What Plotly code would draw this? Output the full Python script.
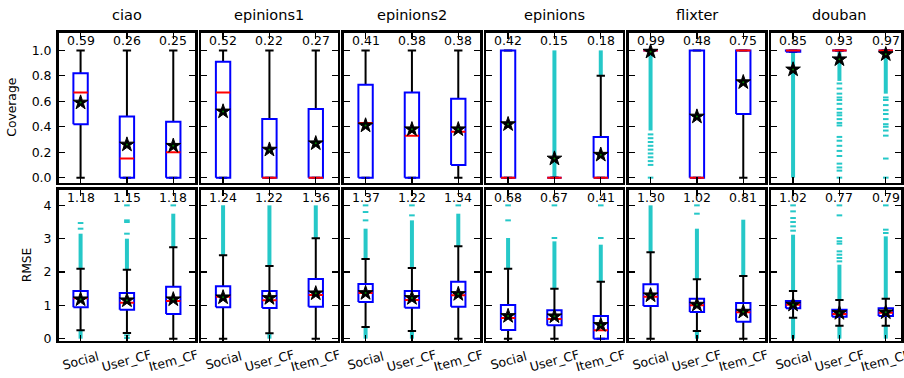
import plotly.graph_objects as go

DATASETS = ["ciao", "epinions1", "epinions2", "epinions", "flixter", "douban"]
METHODS = ["Social", "User_CF", "Item_CF"]
METRICS = ["Coverage", "RMSE"]

# ---------------- Coverage ----------------
COV_Q1 = [[0.42, 0.0, 0.0], [0.0, 0.0, 0.0], [0.0, 0.0, 0.10],
          [0.0, 0.0, 0.0], [1.0, 0.0, 0.50], [0.99, 1.0, 1.0]]
COV_MED = [[0.67, 0.15, 0.20], [0.67, 0.0, 0.0], [0.43, 0.33, 0.36],
           [0.0, 0.0, 0.0], [1.0, 0.0, 1.0], [1.0, 1.0, 1.0]]
COV_Q3 = [[0.82, 0.48, 0.44], [0.91, 0.46, 0.54], [0.73, 0.67, 0.62],
          [1.0, 0.0, 0.32], [1.0, 1.0, 1.0], [1.0, 1.0, 1.0]]
COV_LO = [[0.0, 0.0, 0.0], [0.0, 0.0, 0.0], [0.0, 0.0, 0.0],
          [0.0, 0.0, 0.0], [1.0, 0.0, 0.0], [0.99, 1.0, 1.0]]
COV_HI = [[1.0, 1.0, 1.0], [1.0, 1.0, 1.0], [1.0, 1.0, 1.0],
          [1.0, 0.0, 0.80], [1.0, 1.0, 1.0], [1.0, 1.0, 1.0]]
COV_MEAN = [[0.59, 0.26, 0.25], [0.52, 0.22, 0.27], [0.41, 0.38, 0.38],
            [0.42, 0.15, 0.18], [0.99, 0.48, 0.75], [0.85, 0.93, 0.97]]
COV_BANDS = [[[], [], []], [[], [], []], [[], [], []],
             [[], [[0.0, 1.0]], [[0.80, 1.0]]],
             [[[0.37, 1.0]], [], []],
             [[[0.0, 0.99]], [[0.76, 1.0]], [[0.66, 1.0]]]]
COV_POINTS = [[[], [], []], [[], [], []], [[], [], []], [[], [], []],
              [[0.34, 0.31, 0.28, 0.25, 0.22, 0.19, 0.16, 0.13, 0.10, 0.0], [], []],
              [[], [0.74, 0.70, 0.66, 0.63, 0.61, 0.58, 0.54, 0.51, 0.49, 0.46, 0.43,
                    0.41, 0.32, 0.29, 0.25, 0.21, 0.17, 0.11, 0.08, 0.055, 0.0],
               [0.63, 0.61, 0.57, 0.53, 0.50, 0.46, 0.42, 0.40, 0.37, 0.33, 0.15, 0.0]]]

# ---------------- RMSE ----------------
RMSE_Q1 = [[0.94, 0.87, 0.74], [0.94, 0.92, 0.96], [1.10, 0.93, 0.96],
           [0.26, 0.40, 0.0], [0.98, 0.80, 0.51], [0.91, 0.66, 0.68]]
RMSE_MED = [[1.21, 1.08, 1.13], [1.26, 1.15, 1.31], [1.37, 1.16, 1.30],
            [0.62, 0.59, 0.25], [1.26, 1.00, 0.79], [1.02, 0.74, 0.78]]
RMSE_Q3 = [[1.43, 1.37, 1.56], [1.57, 1.43, 1.79], [1.64, 1.43, 1.71],
           [1.01, 0.85, 0.68], [1.63, 1.20, 1.07], [1.13, 0.87, 0.91]]
RMSE_LO = [[0.25, 0.17, 0.0], [0.0, 0.16, 0.0], [0.35, 0.23, 0.0],
           [0.0, 0.0, 0.0], [0.0, 0.23, 0.0], [0.63, 0.39, 0.39]]
RMSE_HI = [[2.10, 2.07, 2.74], [2.50, 2.18, 3.01], [2.39, 2.12, 2.77],
           [2.10, 1.50, 1.71], [2.59, 1.78, 1.88], [1.43, 1.16, 1.20]]
RMSE_MEAN = [[1.18, 1.15, 1.18], [1.24, 1.22, 1.36], [1.37, 1.22, 1.34],
             [0.68, 0.67, 0.41], [1.30, 1.02, 0.81], [1.02, 0.77, 0.79]]
RMSE_BANDS = [[[[2.10, 3.15], [0.0, 0.25]], [[2.07, 3.0]], [[2.74, 3.75]]],
              [[[2.50, 4.0]], [[2.18, 4.0], [0.0, 0.16]], [[3.01, 4.0]]],
              [[[2.39, 3.30], [0.0, 0.35]], [[2.12, 3.55], [0.0, 0.23]], [[2.77, 3.75]]],
              [[[2.12, 3.02]], [[1.51, 2.92]], [[1.71, 2.82]]],
              [[[2.59, 4.0]], [[1.78, 3.30], [0.0, 0.23]], [[1.88, 3.57]]],
              [[[1.43, 3.12], [0.0, 0.63]], [[1.16, 2.22], [0.0, 0.39]], [[1.21, 3.07], [0.0, 0.39]]]]
RMSE_POINTS = [[[3.30, 3.47], [3.15, 3.50, 3.55, 4.0, 0.02, 0.10], [4.0]],
               [[], [], []],
               [[3.55, 3.80, 4.0], [3.70, 4.0], [4.0]],
               [[3.55, 4.0], [3.02, 4.0], [3.02, 4.0]],
               [[], [3.75, 4.0], []],
               [[4.0, 3.82, 3.62, 3.50, 3.37, 3.24],
                [4.0, 3.70, 3.02, 2.92, 2.85, 2.62, 2.52, 2.42, 2.32],
                [4.0, 3.27, 3.17]]]

STATS = {
    "Coverage": (COV_Q1, COV_MED, COV_Q3, COV_LO, COV_HI, COV_MEAN, COV_BANDS, COV_POINTS),
    "RMSE": (RMSE_Q1, RMSE_MED, RMSE_Q3, RMSE_LO, RMSE_HI, RMSE_MEAN, RMSE_BANDS, RMSE_POINTS),
}

# ---------------- layout geometry ----------------
W, H = 904, 378
LW = 2.7
PX_PER_UNIT_X = 46.35
COL_LEFT0 = 57.4      # spine centre of first column
COL_STEP = 142.5
COL_SPAN = 139.0
ROW_SPINES = [(31.3, 184.0), (188.7, 342.0)]   # top/bottom spine centres in px
YRANGES = [(-0.05, 1.15), (-0.1, 4.5)]
YTICKS = [[0, 0.2, 0.4, 0.6, 0.8, 1.0], [0, 1, 2, 3, 4]]
YTICKTEXT = [["0.0", "0.2", "0.4", "0.6", "0.8", "1.0"], ["0", "1", "2", "3", "4"]]
MEAN_LABEL_Y = [1.078, 4.24]
YTITLE_X = [12, 27]
XLABEL_Y_PX = 360

BOX_HALF = 0.155
CAP_HALF = 0.09
BLUE = "#0000ff"
RED = "#ff0000"
CYAN = "rgb(0,191,191)"
FONT = "DejaVu Sans"

fig = go.Figure()
layout = dict(width=W, height=H, margin=dict(l=0, r=0, t=0, b=0, autoexpand=False),
              template="none",
              paper_bgcolor="white", plot_bgcolor="white", showlegend=False,
              font=dict(family=FONT, size=12, color="black"))
annotations = []

for r, metric in enumerate(METRICS):
    q1s, meds, q3s, los, his, means, bands, points = STATS[metric]
    top_px, bot_px = ROW_SPINES[r]
    y0, y1 = YRANGES[r]
    ppu_y = (bot_px - top_px) / (y1 - y0)
    inner_top = top_px + LW / 2
    inner_bot = bot_px - LW / 2
    yr = [y0 + (LW / 2) / ppu_y, y1 - (LW / 2) / ppu_y]
    for c, ds in enumerate(DATASETS):
        n = r * 6 + c + 1
        xa = "x" if n == 1 else f"x{n}"
        ya = "y" if n == 1 else f"y{n}"
        left = COL_LEFT0 + c * COL_STEP + LW / 2
        right = COL_LEFT0 + c * COL_STEP + COL_SPAN - LW / 2
        right_c = min(right, W - LW)
        xr = [0.5 + (LW / 2) / PX_PER_UNIT_X, 0.5 + (right_c - COL_LEFT0 - c * COL_STEP) / PX_PER_UNIT_X]

        common = dict(showline=True, linecolor="black", linewidth=LW, mirror="allticks",
                      ticks="inside", ticklen=6, tickwidth=1.3, tickcolor="black",
                      showgrid=False, zeroline=False, fixedrange=True, automargin=False)
        layout["xaxis" if n == 1 else f"xaxis{n}"] = dict(
            common, domain=[left / W, right_c / W], range=xr, anchor=ya,
            tickmode="array", tickvals=[1, 2, 3], showticklabels=False)
        layout["yaxis" if n == 1 else f"yaxis{n}"] = dict(
            common, domain=[1 - inner_bot / H, 1 - inner_top / H], range=yr, anchor=xa,
            tickmode="array", tickvals=YTICKS[r], ticktext=YTICKTEXT[r],
            showticklabels=(c == 0), ticklabelstandoff=2,
            tickfont=dict(size=12.5, family=FONT, color="black"))

        # outlier bands and points
        bx, by, px_, py_ = [], [], [], []
        for k in range(3):
            for lo, hi in bands[c][k]:
                bx += [k + 1, k + 1, None]
                by += [lo, hi, None]
            for v in points[c][k]:
                px_.append(k + 1)
                py_.append(v)
        if bx:
            fig.add_trace(go.Scatter(x=bx, y=by, mode="lines", xaxis=xa, yaxis=ya,
                                     line=dict(color=CYAN, width=4), hoverinfo="skip", opacity=0.85))
        if px_:
            fig.add_trace(go.Scatter(x=px_, y=py_, mode="markers", xaxis=xa, yaxis=ya,
                                     marker=dict(symbol="line-ew", size=4,
                                                 line=dict(color=CYAN, width=2)),
                                     hoverinfo="skip", opacity=0.85))

        # whiskers and caps
        wx, wy = [], []
        for k in range(3):
            x0 = k + 1
            wx += [x0, x0, None, x0, x0, None]
            wy += [los[c][k], q1s[c][k], None, q3s[c][k], his[c][k], None]
            wx += [x0 - CAP_HALF, x0 + CAP_HALF, None, x0 - CAP_HALF, x0 + CAP_HALF, None]
            wy += [los[c][k], los[c][k], None, his[c][k], his[c][k], None]
        fig.add_trace(go.Scatter(x=wx, y=wy, mode="lines", xaxis=xa, yaxis=ya,
                                 line=dict(color="black", width=2), hoverinfo="skip"))
        # boxes
        rx, ry = [], []
        for k in range(3):
            xl, xh = k + 1 - BOX_HALF, k + 1 + BOX_HALF
            rx += [xl, xh, xh, xl, xl, None]
            ry += [q1s[c][k], q1s[c][k], q3s[c][k], q3s[c][k], q1s[c][k], None]
        fig.add_trace(go.Scatter(x=rx, y=ry, mode="lines", xaxis=xa, yaxis=ya,
                                 line=dict(color=BLUE, width=2), hoverinfo="skip"))
        # medians
        mx, my = [], []
        for k in range(3):
            mx += [k + 1 - BOX_HALF, k + 1 + BOX_HALF, None]
            my += [meds[c][k], meds[c][k], None]
        fig.add_trace(go.Scatter(x=mx, y=my, mode="lines", xaxis=xa, yaxis=ya,
                                 line=dict(color=RED, width=2), hoverinfo="skip"))
        # means
        fig.add_trace(go.Scatter(x=[1, 2, 3], y=means[c], mode="markers", xaxis=xa, yaxis=ya,
                                 marker=dict(symbol="star", size=11, color="black",
                                             line=dict(color="black", width=1)),
                                 hoverinfo="skip"))
        fig.add_trace(go.Scatter(x=[1, 2, 3], y=means[c], mode="markers", xaxis=xa, yaxis=ya,
                                 marker=dict(symbol="circle", size=2, color="green"),
                                 hoverinfo="skip"))
        for k in range(3):
            annotations.append(dict(x=k + 1, y=MEAN_LABEL_Y[r], xref=xa, yref=ya,
                                    xanchor="center", yanchor="middle",
                                    text=f"{means[c][k]:.2f}", showarrow=False,
                                    font=dict(size=12.5, family=FONT, color="black")))
            if r == 1:
                annotations.append(dict(x=k + 1, y=1 - XLABEL_Y_PX / H, xref=xa, yref="paper",
                                        xanchor="center", yanchor="middle",
                                        text=METHODS[k], showarrow=False, textangle=-15,
                                        font=dict(size=12.5, family=FONT, color="black")))
        if r == 0:
            cx = (COL_LEFT0 + c * COL_STEP + COL_SPAN / 2) / W
            annotations.append(dict(x=cx, y=1 - 15 / H, xref="paper", yref="paper",
                                    xanchor="center", yanchor="middle",
                                    text=ds, showarrow=False,
                                    font=dict(size=14.5, family=FONT, color="black")))
    # y-axis title
    annotations.append(dict(x=YTITLE_X[r] / W, y=1 - (top_px + bot_px) / 2 / H,
                            xref="paper", yref="paper", xanchor="center", yanchor="middle",
                            text=metric, showarrow=False,
                            textangle=-90, font=dict(size=12.3, family=FONT, color="black")))

layout["annotations"] = annotations
fig.update_layout(**layout)
fig.write_html("out.html", config={"displayModeBar": False, "staticPlot": True},
               post_script="document.body.style.margin='0';document.body.style.overflow='hidden';")
